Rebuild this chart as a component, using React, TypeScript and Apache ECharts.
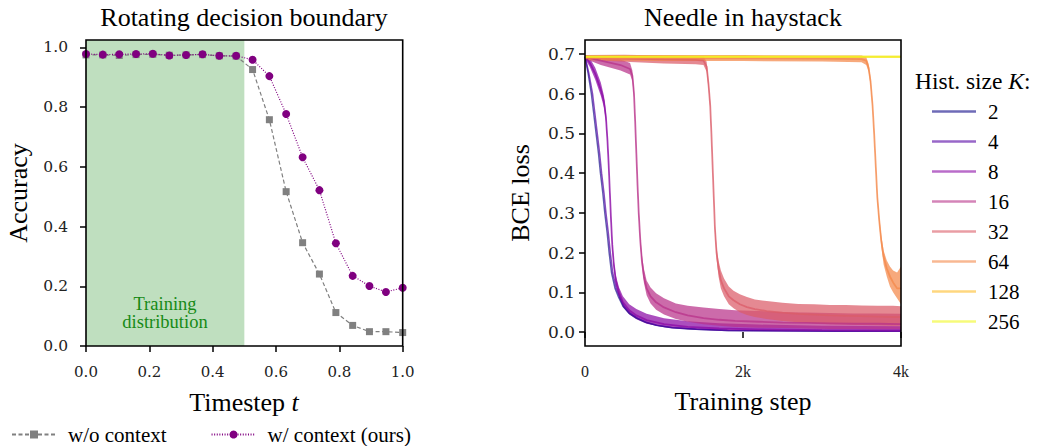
import React, { useEffect, useRef } from 'react';
import * as echarts from 'echarts';

// ---------- Left panel: Rotating decision boundary ----------
const timesteps = [0, 0.053, 0.105, 0.158, 0.211, 0.263, 0.316, 0.368, 0.421, 0.474, 0.526, 0.579, 0.632, 0.684, 0.737, 0.789, 0.842, 0.895, 0.947, 1.0];
const accNoContext = [0.975, 0.975, 0.973, 0.976, 0.977, 0.974, 0.975, 0.976, 0.972, 0.971, 0.926, 0.758, 0.517, 0.346, 0.241, 0.112, 0.069, 0.048, 0.048, 0.045];
const accWithContext = [0.978, 0.976, 0.977, 0.978, 0.979, 0.973, 0.975, 0.977, 0.972, 0.972, 0.959, 0.904, 0.777, 0.632, 0.522, 0.344, 0.235, 0.201, 0.181, 0.195];
const trainingRange = [0, 0.5];
const leftXTicks = [0, 0.2, 0.4, 0.6, 0.8, 1.0];
const leftYTicks = [0, 0.2, 0.4, 0.6, 0.8, 1.0];

// ---------- Right panel: Needle in haystack ----------
const histSizes = ['2', '4', '8', '16', '32', '64', '128', '256'];
const histColors = ['#0d0887', '#5302a3', '#8b0aa5', '#b83289', '#db5c68', '#f48849', '#febd2a', '#f0f921'];

const k2Steps = [0, 40, 80, 110, 140, 170, 195, 225, 250, 280, 305, 335, 380, 420, 480, 560, 650, 760, 900, 1100, 1400, 1800, 2500, 3200, 4000];
const k2Loss = [0.693, 0.65, 0.6, 0.55, 0.5, 0.45, 0.4, 0.35, 0.3, 0.25, 0.2, 0.15, 0.11, 0.09, 0.065, 0.047, 0.035, 0.025, 0.017, 0.011, 0.007, 0.004, 0.003, 0.002, 0.002];

const k4Steps = [0, 50, 95, 125, 155, 185, 210, 240, 265, 295, 320, 350, 395, 435, 495, 575, 665, 775, 915, 1115, 1415, 1815, 2515, 3215, 4000];
const k4Loss = [0.693, 0.65, 0.6, 0.55, 0.5, 0.45, 0.4, 0.35, 0.3, 0.25, 0.2, 0.15, 0.11, 0.09, 0.065, 0.047, 0.035, 0.025, 0.017, 0.011, 0.007, 0.004, 0.003, 0.002, 0.002];

const k8Steps = [0, 60, 130, 200, 240, 265, 285, 300, 315, 330, 345, 365, 390, 430, 480, 560, 650, 780, 1000, 1300, 1700, 2200, 3000, 4000];
const k8Loss = [0.693, 0.678, 0.65, 0.61, 0.58, 0.54, 0.48, 0.42, 0.35, 0.28, 0.22, 0.17, 0.13, 0.1, 0.075, 0.055, 0.042, 0.03, 0.02, 0.013, 0.009, 0.007, 0.005, 0.004];
const k8Lo = [0.688, 0.668, 0.635, 0.595, 0.565, 0.53, 0.47, 0.41, 0.34, 0.27, 0.21, 0.16, 0.118, 0.088, 0.063, 0.044, 0.032, 0.021, 0.012, 0.007, 0.004, 0.003, 0.002, 0.002];
const k8Hi = [0.697, 0.69, 0.665, 0.628, 0.595, 0.555, 0.49, 0.43, 0.36, 0.29, 0.23, 0.18, 0.143, 0.113, 0.09, 0.07, 0.058, 0.046, 0.035, 0.027, 0.022, 0.019, 0.016, 0.015];

const k16Steps = [0, 200, 450, 570, 600, 620, 635, 650, 665, 680, 700, 720, 745, 780, 830, 900, 1000, 1150, 1300, 1500, 1700, 1900, 2200, 2500, 2800, 3100, 3400, 3700, 4000];
const k16Loss = [0.692, 0.683, 0.672, 0.662, 0.645, 0.6, 0.53, 0.45, 0.37, 0.3, 0.23, 0.18, 0.14, 0.11, 0.09, 0.075, 0.062, 0.05, 0.042, 0.035, 0.031, 0.028, 0.026, 0.024, 0.023, 0.022, 0.021, 0.021, 0.02];
const k16Lo = [0.688, 0.672, 0.658, 0.648, 0.632, 0.59, 0.52, 0.44, 0.36, 0.29, 0.22, 0.168, 0.125, 0.093, 0.072, 0.056, 0.044, 0.033, 0.026, 0.02, 0.016, 0.013, 0.011, 0.01, 0.009, 0.008, 0.008, 0.007, 0.007];
const k16Hi = [0.696, 0.693, 0.686, 0.677, 0.658, 0.61, 0.54, 0.46, 0.38, 0.31, 0.24, 0.195, 0.16, 0.13, 0.112, 0.098, 0.085, 0.072, 0.066, 0.062, 0.058, 0.055, 0.053, 0.05, 0.049, 0.048, 0.047, 0.047, 0.046];

const k32Steps = [0, 500, 1000, 1400, 1500, 1540, 1565, 1585, 1600, 1615, 1630, 1645, 1665, 1690, 1720, 1760, 1820, 1880, 1960, 2050, 2150, 2300, 2500, 2700, 2900, 3100, 3300, 3500, 3700, 3900, 4000];
const k32Loss = [0.69, 0.688, 0.686, 0.685, 0.683, 0.668, 0.62, 0.57, 0.5, 0.42, 0.34, 0.26, 0.2, 0.16, 0.13, 0.11, 0.09, 0.08, 0.07, 0.063, 0.058, 0.053, 0.049, 0.046, 0.044, 0.042, 0.041, 0.04, 0.039, 0.038, 0.038];
const k32Lo = [0.685, 0.68, 0.676, 0.674, 0.672, 0.655, 0.61, 0.56, 0.49, 0.41, 0.33, 0.25, 0.185, 0.14, 0.11, 0.09, 0.07, 0.06, 0.05, 0.043, 0.038, 0.033, 0.028, 0.025, 0.022, 0.02, 0.019, 0.018, 0.017, 0.016, 0.016];
const k32Hi = [0.697, 0.698, 0.696, 0.695, 0.694, 0.68, 0.63, 0.58, 0.51, 0.43, 0.35, 0.27, 0.215, 0.18, 0.155, 0.135, 0.115, 0.104, 0.095, 0.088, 0.082, 0.078, 0.074, 0.071, 0.07, 0.068, 0.068, 0.067, 0.066, 0.066, 0.065];

const k64Steps = [0, 1000, 2000, 3000, 3500, 3560, 3590, 3615, 3640, 3660, 3680, 3700, 3725, 3750, 3780, 3820, 3860, 3900, 3950, 4000];
const k64Loss = [0.69, 0.689, 0.689, 0.688, 0.687, 0.683, 0.665, 0.63, 0.57, 0.5, 0.42, 0.34, 0.28, 0.23, 0.19, 0.16, 0.14, 0.125, 0.11, 0.11];
const k64Lo = [0.684, 0.682, 0.682, 0.681, 0.679, 0.672, 0.655, 0.62, 0.56, 0.49, 0.41, 0.33, 0.27, 0.215, 0.17, 0.14, 0.115, 0.1, 0.085, 0.07];
const k64Hi = [0.696, 0.697, 0.697, 0.696, 0.696, 0.692, 0.675, 0.64, 0.58, 0.51, 0.43, 0.35, 0.29, 0.245, 0.205, 0.18, 0.165, 0.155, 0.15, 0.165];

const k128Steps = [0, 4000];
const k128Loss = [0.693, 0.693];
const k256Steps = [0, 4000];
const k256Loss = [0.693, 0.693];

const rightXTicks = [0, 2000, 4000];
const rightYTicks = [0, 0.1, 0.2, 0.3, 0.4, 0.5, 0.6, 0.7];

const SERIF = 'Liberation Serif';
const TICKFONT = 'DejaVu Serif';

function zip(xs: number[], ys: number[]) {
  return xs.map((x, i) => [x, ys[i]]);
}

function bandSeries(name: string, steps: number[], lo: number[], hi: number[], color: string, opacity: number) {
  const data = steps.map((s, i) => [s, lo[i], hi[i]]);
  return {
    type: 'custom',
    name: name + ' band',
    xAxisIndex: 1,
    yAxisIndex: 1,
    data,
    encode: { x: 0, y: [1, 2] },
    silent: true,
    clip: true,
    renderItem: (params: any, api: any) => {
      if (params.dataIndex !== 0) return null;
      const top = data.map((d) => api.coord([d[0], d[2]]));
      const bot = data.map((d) => api.coord([d[0], d[1]])).reverse();
      return {
        type: 'polygon',
        shape: { points: top.concat(bot) },
        style: { fill: color, opacity },
      };
    },
  };
}

function lossLine(name: string, steps: number[], loss: number[], color: string, width: number, opacity: number) {
  return {
    type: 'line',
    name,
    xAxisIndex: 1,
    yAxisIndex: 1,
    data: zip(steps, loss),
    symbol: 'none',
    showSymbol: false,
    clip: true,
    lineStyle: { color, width, opacity },
    itemStyle: { color, opacity },
  };
}

const tickStyle = { show: true, inside: false, length: 6, lineStyle: { color: '#000', width: 1.5 } };

export default function App() {
  const ref = useRef<HTMLDivElement>(null);
  useEffect(() => {
    const chart = echarts.init(ref.current!, null, { renderer: 'svg' });
    const c = histColors;
    const op = 0.72;
    const option: any = {
      animation: false,
      backgroundColor: '#fff',
      grid: [
        { left: 86, top: 40, width: 316.7, height: 306 },
        { left: 585, top: 40, width: 316, height: 306 },
      ],
      xAxis: [
        {
          type: 'value', gridIndex: 0, min: 0, max: 1,
          axisLine: { show: false }, splitLine: { show: false },
          axisTick: { ...tickStyle, customValues: leftXTicks },
          axisLabel: { customValues: leftXTicks, formatter: (v: number) => v.toFixed(1), fontFamily: TICKFONT, fontSize: 15, color: '#222', margin: 18 },
        },
        {
          type: 'value', gridIndex: 1, min: 0, max: 4000,
          axisLine: { show: false }, splitLine: { show: false },
          axisTick: { ...tickStyle, customValues: rightXTicks },
          axisLabel: { customValues: rightXTicks, formatter: (v: number) => (v === 0 ? '0' : v / 1000 + 'k'), fontFamily: SERIF, fontSize: 16, color: '#222', margin: 17 },
        },
      ],
      yAxis: [
        {
          type: 'value', gridIndex: 0, min: 0, max: 1.025,
          axisLine: { show: false }, splitLine: { show: false },
          axisTick: { ...tickStyle, customValues: leftYTicks },
          axisLabel: { customValues: leftYTicks, formatter: (v: number) => v.toFixed(1), fontFamily: TICKFONT, fontSize: 15.5, color: '#222', margin: 18 },
        },
        {
          type: 'value', gridIndex: 1, min: -0.035, max: 0.735,
          axisLine: { show: false }, splitLine: { show: false },
          axisTick: { ...tickStyle, customValues: rightYTicks },
          axisLabel: { customValues: rightYTicks, formatter: (v: number) => v.toFixed(1), fontFamily: TICKFONT, fontSize: 17, color: '#222', margin: 10 },
        },
      ],
      legend: [
        {
          data: ['w/o context', 'w/ context (ours)'],
          left: 6, top: 419, orient: 'horizontal',
          itemWidth: 44, itemHeight: 10, itemGap: 44,
          textStyle: { fontFamily: SERIF, fontSize: 21, lineHeight: 21, color: '#000', padding: [0, 0, 0, 7] },
        },
        {
          data: histSizes,
          left: 927, top: 96, orient: 'vertical',
          icon: 'rect', itemWidth: 44, itemHeight: 2.5, itemGap: 9,
          itemStyle: { opacity: 0.6 },
          textStyle: { fontFamily: SERIF, fontSize: 21, lineHeight: 21, color: '#000', padding: [0, 0, 0, 7] },
        },
      ],
      series: [
        {
          type: 'line', name: 'w/o context', xAxisIndex: 0, yAxisIndex: 0,
          data: zip(timesteps, accNoContext),
          symbol: 'rect', symbolSize: 7,
          lineStyle: { color: '#808080', width: 1.2, type: [4, 2.5] },
          itemStyle: { color: '#808080' },
          markArea: {
            silent: true,
            itemStyle: { color: '#bfdfbf' },
            data: [[{ xAxis: trainingRange[0] }, { xAxis: trainingRange[1] }]],
          },
          z: 2,
        },
        {
          type: 'line', name: 'w/ context (ours)', xAxisIndex: 0, yAxisIndex: 0,
          data: zip(timesteps, accWithContext),
          symbol: 'circle', symbolSize: 8,
          lineStyle: { color: '#800080', width: 1.2, type: [1, 1.6] },
          itemStyle: { color: '#800080' },
          z: 3,
        },
        lossLine('2', k2Steps, k2Loss, c[0], 1.4, 0.65),
        lossLine('4', k4Steps, k4Loss, c[1], 1.5, 0.7),
        bandSeries('8', k8Steps, k8Lo, k8Hi, c[2], op),
        lossLine('8', k8Steps, k8Loss, c[2], 1.8, 0.75),
        bandSeries('16', k16Steps, k16Lo, k16Hi, c[3], op),
        lossLine('16', k16Steps, k16Loss, c[3], 1.8, 0.75),
        bandSeries('32', k32Steps, k32Lo, k32Hi, c[4], op),
        lossLine('32', k32Steps, k32Loss, c[4], 1.8, 0.75),
        bandSeries('64', k64Steps, k64Lo, k64Hi, c[5], op),
        lossLine('64', k64Steps, k64Loss, c[5], 1.8, 0.75),
        lossLine('128', k128Steps, k128Loss, c[6], 2, 0.75),
        lossLine('256', k256Steps, k256Loss, c[7], 2, 0.8),
      ],
      graphic: [
        { type: 'rect', z: 100, silent: true, shape: { x: 86, y: 40, width: 316.7, height: 306 }, style: { fill: 'none', stroke: '#000', lineWidth: 1.6 } },
        { type: 'rect', z: 100, silent: true, shape: { x: 585, y: 40, width: 316, height: 306 }, style: { fill: 'none', stroke: '#000', lineWidth: 1.6 } },
        { type: 'text', x: 244, y: 17, z: 100, style: { text: 'Rotating decision boundary', fontFamily: SERIF, fontSize: 26, fill: '#000', align: 'center', verticalAlign: 'middle' } },
        { type: 'text', x: 743, y: 17, z: 100, style: { text: 'Needle in haystack', fontFamily: SERIF, fontSize: 26, fill: '#000', align: 'center', verticalAlign: 'middle' } },
        { type: 'text', x: 18, y: 193, rotation: Math.PI / 2, z: 100, style: { text: 'Accuracy', fontFamily: SERIF, fontSize: 26, fill: '#000', align: 'center', verticalAlign: 'middle' } },
        { type: 'text', x: 520, y: 193, rotation: Math.PI / 2, z: 100, style: { text: 'BCE loss', fontFamily: SERIF, fontSize: 26, fill: '#000', align: 'center', verticalAlign: 'middle' } },
        {
          type: 'text', x: 244, y: 402, z: 100,
          style: {
            text: '{a|Timestep }{b|t}', align: 'center', verticalAlign: 'middle',
            rich: { a: { fontFamily: SERIF, fontSize: 26, fill: '#000' }, b: { fontFamily: SERIF, fontSize: 26, fontStyle: 'italic', fill: '#000' } },
          },
        },
        { type: 'text', x: 743, y: 401, z: 100, style: { text: 'Training step', fontFamily: SERIF, fontSize: 26, fill: '#000', align: 'center', verticalAlign: 'middle' } },
        {
          type: 'text', x: 915, y: 81, z: 100,
          style: {
            text: '{a|Hist. size }{b|K}{a|:}', align: 'left', verticalAlign: 'middle',
            rich: { a: { fontFamily: SERIF, fontSize: 23.5, fill: '#000' }, b: { fontFamily: SERIF, fontSize: 23.5, fontStyle: 'italic', fill: '#000' } },
          },
        },
        { type: 'text', x: 165, y: 304, z: 100, style: { text: 'Training', fontFamily: SERIF, fontSize: 18.5, fill: '#168a16', align: 'center', verticalAlign: 'middle' } },
        { type: 'text', x: 165, y: 322, z: 100, style: { text: 'distribution', fontFamily: SERIF, fontSize: 18.5, fill: '#168a16', align: 'center', verticalAlign: 'middle' } },
      ],
    };
    chart.setOption(option);
    return () => chart.dispose();
  }, []);
  return <div ref={ref} style={{ position: 'fixed', left: 0, top: 0, width: 1040, height: 446, background: '#fff' }} />;
}
